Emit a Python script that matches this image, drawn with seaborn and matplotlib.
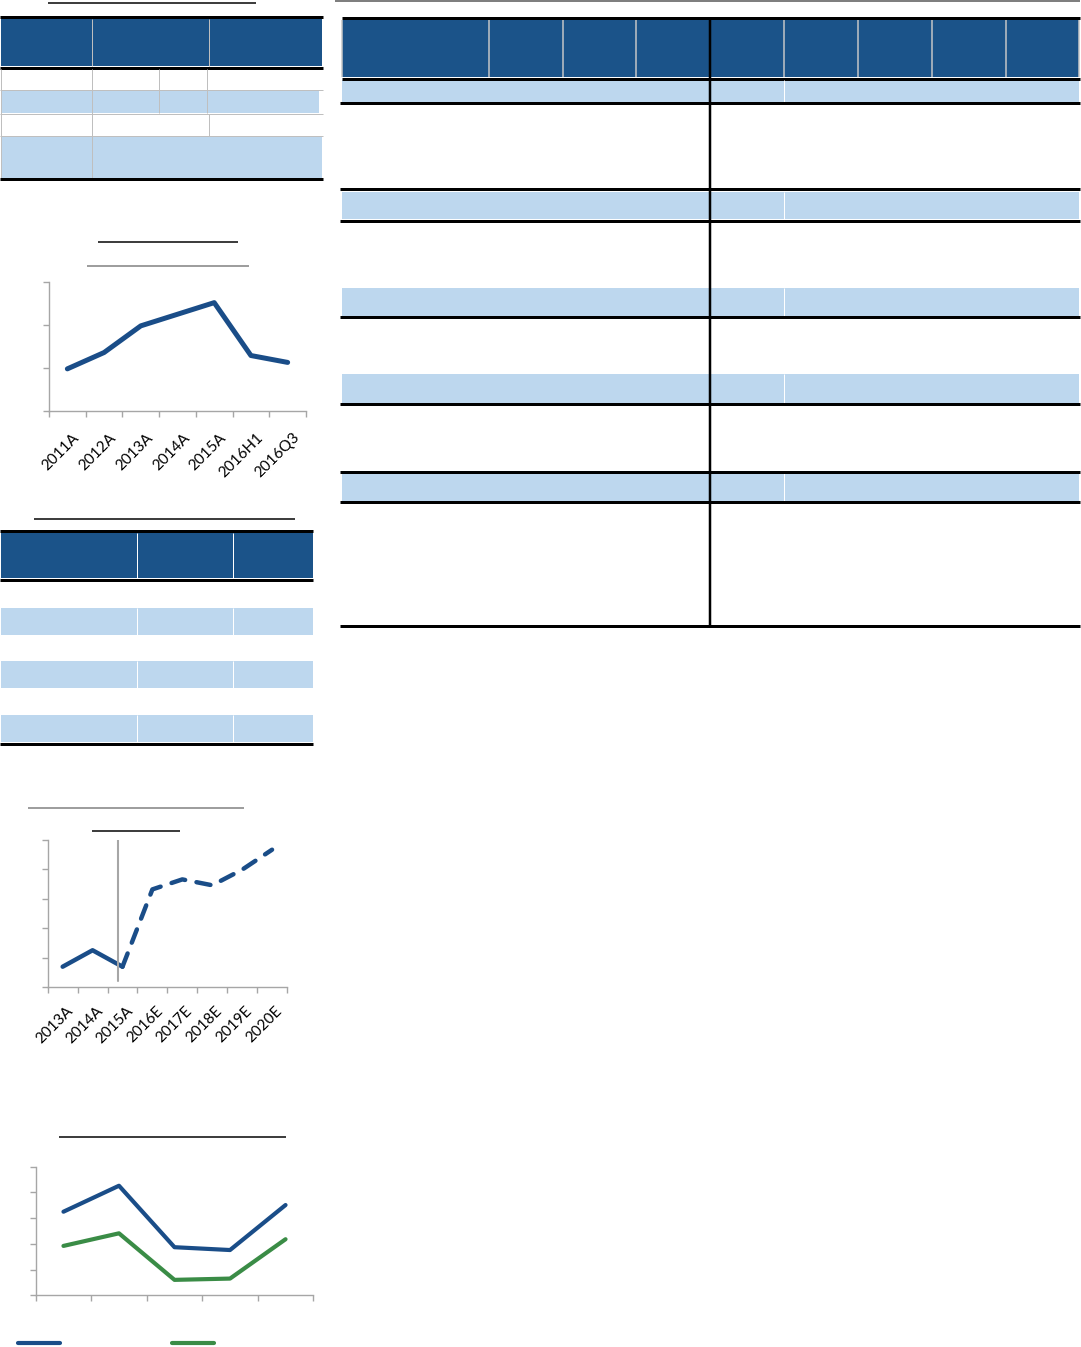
import numpy as np
import seaborn as sns
import matplotlib.pyplot as plt
from matplotlib.patches import Rectangle
from matplotlib.transforms import ScaledTranslation

W, H = 1081, 1347

# chart 1: yearly trend
periods1 = ['2011A', '2012A', '2013A', '2014A', '2015A', '2016H1', '2016Q3']
values1 = [0.98, 1.36, 1.98, 2.25, 2.52, 1.29, 1.13]

# chart 2: actual + forecast
periods2 = ['2013A', '2014A', '2015A', '2016E', '2017E', '2018E', '2019E', '2020E']
values2 = [0.69, 1.25, 0.69, 3.32, 3.66, 3.46, 3.99, 4.67]
n_actual2 = 3

# chart 3: two series, five points
points3 = [1, 2, 3, 4, 5]
series_blue3 = [3.25, 4.26, 1.87, 1.76, 3.51]
series_green3 = [1.92, 2.41, 0.60, 0.65, 2.18]

BLUE_DARK = '#1B5389'
BLUE_LIGHT = '#BDD7EE'
LINE_BLUE = '#1A4D88'
GREEN = '#3A8C46'
AXIS_GRAY = '#A6A6A6'

sns.set_theme(style='white')
plt.rcParams['font.family'] = ['Lato', 'DejaVu Sans']

fig = plt.figure(figsize=(W / 100, H / 100), dpi=100)
page = fig.add_axes([0, 0, 1, 1], zorder=0)
page.set_xlim(0, W)
page.set_ylim(H, 0)
page.axis('off')


def hline(y, x0, x1, color='black', lw=3.0):
    page.plot([x0, x1], [y, y], color=color, lw=lw * 0.72, solid_capstyle='butt')


def vline(x, y0, y1, color='black', lw=1.0):
    page.plot([x, x], [y0, y1], color=color, lw=lw * 0.72, solid_capstyle='butt')


def rect(x0, y0, x1, y1, color):
    page.add_patch(Rectangle((x0, y0), x1 - x0, y1 - y0, facecolor=color, lw=0))


# ---- top-left table
hline(3.3, 48, 256, lw=1.5)
hline(17.3, 0, 323)
rect(1, 19, 322, 66, BLUE_DARK)
for x in (92.3, 209.3):
    vline(x, 19, 66, color='#BFBFBF')
hline(67.7, 0, 323)
rect(1, 91, 319, 113, BLUE_LIGHT)
rect(1, 136, 322, 178, BLUE_LIGHT)
for y in (90, 113.5, 135.5):
    hline(y, 0, 323, color='#BFBFBF', lw=1)
vline(1, 69, 178, color='#BFBFBF')
vline(92.3, 69, 178, color='#BFBFBF')
for x in (158.7, 206.7):
    vline(x, 69, 113, color='#BFBFBF')
vline(209.3, 113.5, 135.5, color='#BFBFBF')
hline(179, 0, 323)

# ---- middle-left table
hline(519.3, 34, 295, lw=1.5)
hline(531, 0, 313)
rect(1, 533, 313, 578, BLUE_DARK)
for y0, y1 in ((608, 635), (661, 688), (715, 742)):
    rect(1, y0, 313, y1, BLUE_LIGHT)
    for x in (137.3, 233.3):
        vline(x, y0, y1, color='white')
for x in (137.3, 233.3):
    vline(x, 533, 578, color='white')
hline(579.5, 0, 313)
hline(743.7, 0, 313)

# ---- right table
hline(1, 335, 1080, color='#7F7F7F', lw=2)
hline(17.7, 342, 1080)
rect(342, 20, 1079, 77, BLUE_DARK)
for x in (342, 488.8, 562.6, 636.4, 784, 857.9, 931.7, 1005.5, 1078.8):
    vline(x, 20, 77, color='#C8C8C8', lw=1.5)
hline(78.7, 342, 1080)
for y0, y1 in ((80, 101.7), (191.7, 219.3), (287.7, 316), (374, 402.7), (473, 500.7)):
    rect(342, y0, 1079, y1, BLUE_LIGHT)
    vline(784, y0, y1, color='white')
for y in (102.7, 189.3, 220.7, 317, 403.7, 471.7, 501.7, 626):
    hline(y, 340, 1080)
vline(710, 17.7, 626, lw=2.5)


def chart_axes(left, top, right, bottom, n_cat, n_y):
    ax = fig.add_axes([left / W, 1 - bottom / H, (right - left) / W, (bottom - top) / H], zorder=2)
    ax.patch.set_alpha(0)
    sns.despine(ax=ax)
    for s in ('left', 'bottom'):
        ax.spines[s].set_color(AXIS_GRAY)
        ax.spines[s].set_linewidth(1.0)
    ax.set_xlim(-0.5, n_cat - 0.5)
    ax.set_ylim(0, n_y)
    ax.set_yticks(np.arange(n_y + 1))
    ax.set_xticks(np.arange(n_cat + 1) - 0.5, minor=True)
    ax.set_xticks(np.arange(n_cat))
    ax.tick_params(axis='y', left=True, length=4, width=1, color=AXIS_GRAY, labelleft=False)
    ax.tick_params(axis='x', which='minor', bottom=True, length=4, width=1, color=AXIS_GRAY)
    ax.tick_params(axis='x', which='major', length=0)
    ax.set_xlabel('')
    ax.set_ylabel('')
    return ax


def rotated_labels(ax, labels, pad, dx):
    ax.set_xticklabels(labels, rotation=45, ha='right', va='top', rotation_mode='anchor',
                       fontsize=11, color='black')
    ax.tick_params(axis='x', which='major', pad=pad)
    for lab in ax.get_xticklabels():
        lab.set_transform(lab.get_transform() + ScaledTranslation(dx / 100, 0, fig.dpi_scale_trans))


# ---- chart 1
hline(242, 98, 238, lw=1.5)
hline(265.7, 87, 249, color='#7F7F7F', lw=1.5)
ax1 = chart_axes(49, 282, 306, 411, len(periods1), 3)
sns.lineplot(x=np.arange(len(periods1)), y=values1, ax=ax1, color=LINE_BLUE, lw=3.6,
             solid_capstyle='round', solid_joinstyle='round')
rotated_labels(ax1, periods1, pad=14, dx=5)

# ---- chart 2
hline(807.7, 28, 244, color='#7F7F7F', lw=1.5)
hline(831, 92, 180, lw=1.5)
ax2 = chart_axes(47.7, 840, 287, 987, len(periods2), 5)
x2 = np.arange(len(periods2))
sns.lineplot(x=x2[:n_actual2], y=values2[:n_actual2], ax=ax2, color=LINE_BLUE, lw=3.2,
             solid_capstyle='round', solid_joinstyle='round')
sns.lineplot(x=x2[n_actual2 - 1:], y=values2[n_actual2 - 1:], ax=ax2, color=LINE_BLUE, lw=3.2,
             linestyle=(0, (3.2, 2.6)), dash_capstyle='round')
ax2.axvline(1.86, ymin=0.04, ymax=1.0, color=AXIS_GRAY, lw=1.5)
rotated_labels(ax2, periods2, pad=12, dx=3)

# ---- chart 3
hline(1137.3, 59, 286, lw=1.5)
ax3 = chart_axes(35.7, 1166.7, 313.3, 1295.3, len(points3), 5)
x3 = np.arange(len(points3))
sns.lineplot(x=x3, y=series_blue3, ax=ax3, color=LINE_BLUE, lw=3.0, solid_capstyle='round')
sns.lineplot(x=x3, y=series_green3, ax=ax3, color=GREEN, lw=3.0, solid_capstyle='round')
ax3.set_xticklabels([])
fs = 10
fs_px = fs * 100 / 72
leg = fig.legend(handles=ax3.lines[:2], labels=['', ''], ncol=2, frameon=False,
                 loc='center left', bbox_to_anchor=(18 / W, 1 - 1344 / H),
                 fontsize=fs, handlelength=42 / fs_px, handletextpad=0,
                 columnspacing=112 / fs_px, borderpad=0, borderaxespad=0)
for ln in leg.get_lines():
    ln.set_solid_capstyle('round')

fig.savefig('out.png', dpi=100)
